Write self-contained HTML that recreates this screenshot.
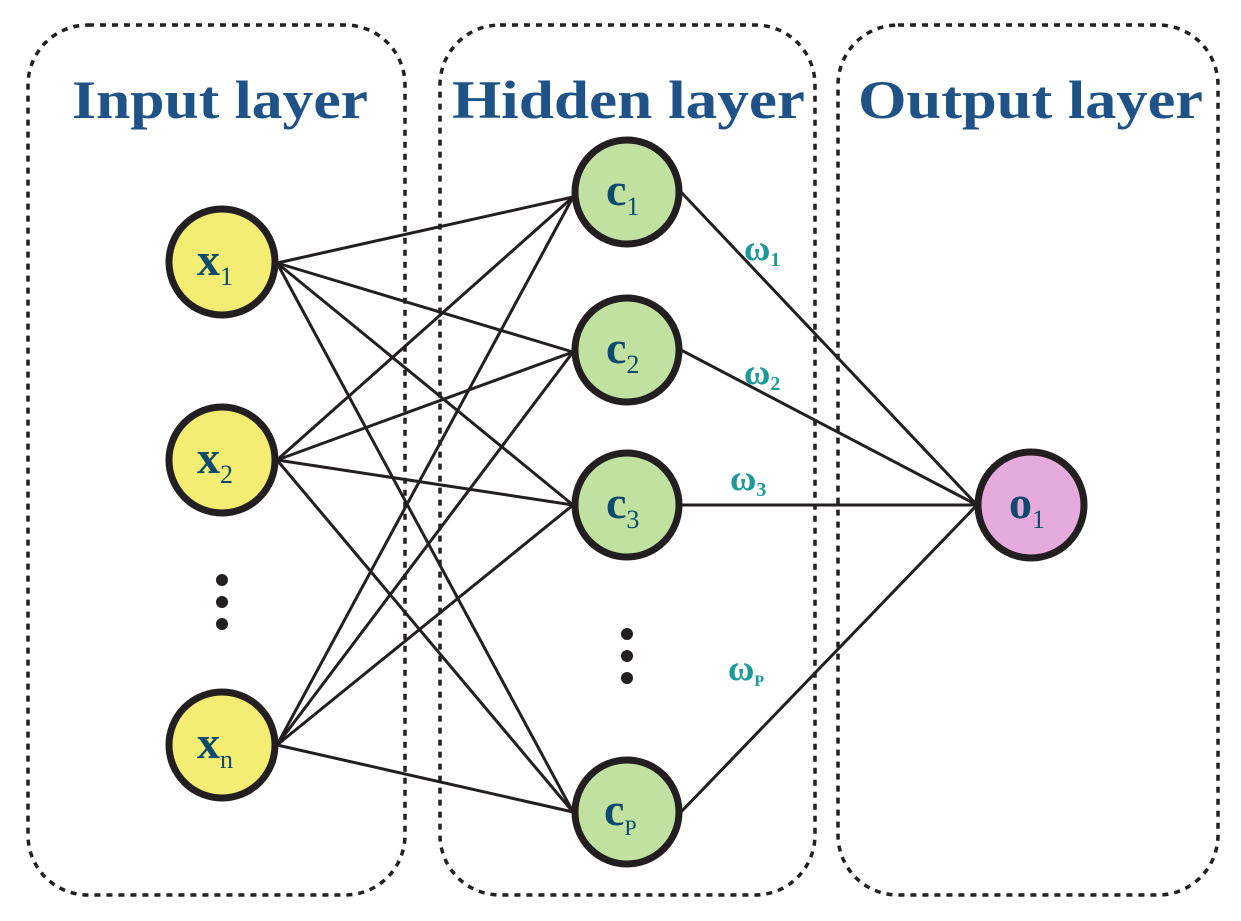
<!DOCTYPE html>
<html><head><meta charset="utf-8"><style>
html,body{margin:0;padding:0;background:#fff;}
svg{display:block;}
text{font-family:"Liberation Serif",serif;font-weight:bold;}
</style></head><body>
<svg width="1241" height="921" viewBox="0 0 1241 921" xmlns="http://www.w3.org/2000/svg">
<g fill="none" stroke="#231f20" stroke-width="3.5" stroke-dasharray="6,6">
<rect x="28" y="25" width="377" height="870" rx="60"/>
<rect x="440" y="25" width="375" height="870" rx="60"/>
<rect x="838" y="25" width="380" height="870" rx="60"/>
</g>
<g fill="#1f5388" font-size="54">
<text x="72" y="118" textLength="296" lengthAdjust="spacingAndGlyphs">Input layer</text>
<text x="452" y="118" textLength="353" lengthAdjust="spacingAndGlyphs">Hidden layer</text>
<text x="858" y="118" textLength="345" lengthAdjust="spacingAndGlyphs">Output layer</text>
</g>
<g stroke="#231f20" stroke-width="3">
<line x1="277" y1="263" x2="573" y2="197"/>
<line x1="277" y1="263" x2="573" y2="352"/>
<line x1="277" y1="263" x2="573" y2="505"/>
<line x1="277" y1="263" x2="573" y2="812"/>
<line x1="277" y1="460" x2="573" y2="197"/>
<line x1="277" y1="460" x2="573" y2="352"/>
<line x1="277" y1="460" x2="573" y2="505"/>
<line x1="277" y1="460" x2="573" y2="812"/>
<line x1="277" y1="745" x2="573" y2="197"/>
<line x1="277" y1="745" x2="573" y2="352"/>
<line x1="277" y1="745" x2="573" y2="505"/>
<line x1="277" y1="745" x2="573" y2="812"/>
<line x1="681" y1="192" x2="977" y2="505"/>
<line x1="681" y1="350" x2="977" y2="505"/>
<line x1="681" y1="505" x2="977" y2="505"/>
<line x1="681" y1="812" x2="977" y2="505"/>
</g>
<g stroke="#231f20" stroke-width="7">
<circle cx="222" cy="262" r="53" fill="#f3ed74"/>
<circle cx="222" cy="460" r="53" fill="#f3ed74"/>
<circle cx="222" cy="745" r="53" fill="#f3ed74"/>
<circle cx="627" cy="192" r="52" fill="#c1e1a1"/>
<circle cx="627" cy="350" r="52" fill="#c1e1a1"/>
<circle cx="627" cy="505" r="52" fill="#c1e1a1"/>
<circle cx="627" cy="812" r="52" fill="#c1e1a1"/>
<circle cx="1031" cy="505" r="53" fill="#e4abdc"/>
</g>
<g fill="#231f20">
<circle cx="222" cy="580" r="6"/><circle cx="222" cy="602" r="6"/><circle cx="222" cy="624" r="6"/>
<circle cx="627" cy="634" r="6"/><circle cx="627" cy="656" r="6"/><circle cx="627" cy="678" r="6"/>
</g>
<g fill="#0e4a6e">
<text x="197" y="275" font-size="46">x<tspan font-size="26" font-weight="normal" dy="10">1</tspan></text>
<text x="197" y="473" font-size="46">x<tspan font-size="26" font-weight="normal" dy="10">2</tspan></text>
<text x="197" y="758" font-size="46">x<tspan font-size="26" font-weight="normal" dy="10">n</tspan></text>
<text x="606" y="205" font-size="46">c<tspan font-size="26" font-weight="normal" dy="10">1</tspan></text>
<text x="606" y="363" font-size="46">c<tspan font-size="26" font-weight="normal" dy="10">2</tspan></text>
<text x="606" y="518" font-size="46">c<tspan font-size="26" font-weight="normal" dy="10">3</tspan></text>
<text x="604" y="825" font-size="46">c<tspan font-size="22" font-weight="normal" dy="10">P</tspan></text>
<text x="1009" y="518" font-size="46">o<tspan font-size="26" font-weight="normal" dy="10">1</tspan></text>
</g>
<g fill="#1a9a9a" font-size="36" font-weight="normal">
<text x="744" y="260">ω<tspan font-size="20" dy="6">1</tspan></text>
<text x="744" y="384">ω<tspan font-size="20" dy="6">2</tspan></text>
<text x="730" y="490">ω<tspan font-size="20" dy="6">3</tspan></text>
<text x="728" y="680">ω<tspan font-size="16" dy="6">P</tspan></text>
</g>
</svg>
</body></html>
